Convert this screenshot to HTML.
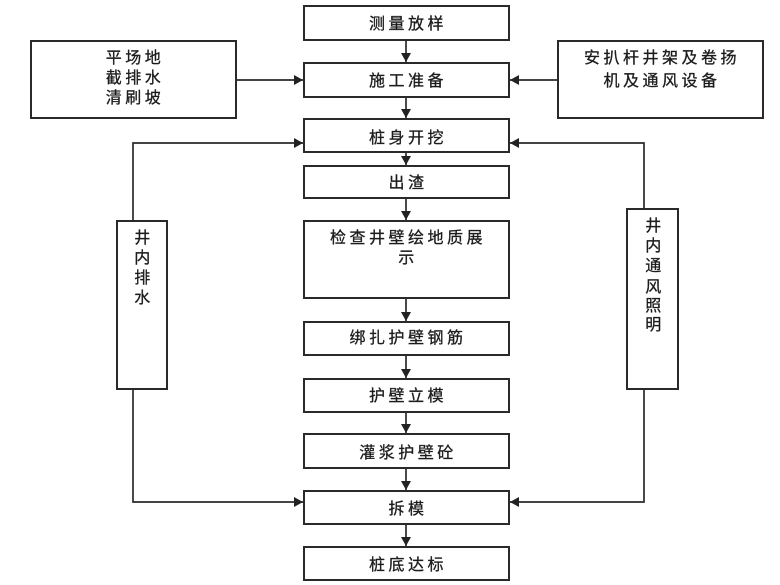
<!DOCTYPE html>
<html>
<head>
<meta charset="utf-8">
<style>
  html,body{margin:0;padding:0;background:#fff;}
  svg{display:block;}
  text{font-family:"Liberation Sans","Noto Sans CJK SC","WenQuanYi Zen Hei",sans-serif;font-size:16px;fill:#1c1c1c;stroke:#1c1c1c;stroke-width:0.3;letter-spacing:3.5px;}
</style>
</head>
<body>
<svg width="780" height="585" viewBox="0 0 780 585" xmlns="http://www.w3.org/2000/svg">
  <defs>
    <marker id="ah" markerWidth="10" markerHeight="10" refX="9" refY="5" orient="auto" markerUnits="userSpaceOnUse">
      <path d="M0,0 L9,5 L0,10 Z" fill="#222"/>
    </marker>
  </defs>

  <!-- boxes -->
  <g fill="#fff" stroke="#2a2a2a" stroke-width="2">
    <rect x="304" y="6" width="205" height="34"/>
    <rect x="304" y="63" width="205" height="34"/>
    <rect x="304" y="119" width="205" height="33"/>
    <rect x="304" y="166" width="205" height="32"/>
    <rect x="304" y="221" width="205" height="77"/>
    <rect x="304" y="322" width="205" height="33"/>
    <rect x="304" y="379" width="205" height="33"/>
    <rect x="304" y="434" width="205" height="34"/>
    <rect x="304" y="491" width="205" height="33"/>
    <rect x="304" y="547" width="205" height="33"/>
    <rect x="31" y="41" width="205" height="77"/>
    <rect x="558" y="41" width="205" height="77"/>
    <rect x="117" y="221" width="50" height="168"/>
    <rect x="627" y="209" width="51" height="180"/>
  </g>

  <!-- connectors -->
  <g stroke="#2a2a2a" stroke-width="1.7" fill="none">
    <line x1="406" y1="40" x2="406" y2="62" marker-end="url(#ah)"/>
    <line x1="406" y1="97" x2="406" y2="118" marker-end="url(#ah)"/>
    <line x1="406" y1="152" x2="406" y2="165" marker-end="url(#ah)"/>
    <line x1="406" y1="198" x2="406" y2="220" marker-end="url(#ah)"/>
    <line x1="406" y1="298" x2="406" y2="321" marker-end="url(#ah)"/>
    <line x1="406" y1="355" x2="406" y2="378" marker-end="url(#ah)"/>
    <line x1="406" y1="412" x2="406" y2="433" marker-end="url(#ah)"/>
    <line x1="406" y1="468" x2="406" y2="490" marker-end="url(#ah)"/>
    <line x1="406" y1="524" x2="406" y2="546" marker-end="url(#ah)"/>

    <line x1="236" y1="80" x2="303" y2="80" marker-end="url(#ah)"/>
    <line x1="558" y1="80" x2="510" y2="80" marker-end="url(#ah)"/>

    <polyline points="133,221 133,143 303,143" marker-end="url(#ah)"/>
    <polyline points="133,389 133,502 303,502" marker-end="url(#ah)"/>
    <polyline points="644,209 644,143 510,143" marker-end="url(#ah)"/>
    <polyline points="644,389 644,502 510,502" marker-end="url(#ah)"/>
  </g>

  <!-- labels -->
  <g text-anchor="middle">
    <text x="408" y="29">测量放样</text>
    <text x="408" y="86">施工准备</text>
    <text x="408" y="143">桩身开挖</text>
    <text x="408" y="188">出渣</text>
    <text x="408" y="243">检查井壁绘地质展</text>
    <text x="408" y="263">示</text>
    <text x="408" y="343">绑扎护壁钢筋</text>
    <text x="408" y="401">护壁立模</text>
    <text x="408" y="458">灌浆护壁砼</text>
    <text x="408" y="514">拆模</text>
    <text x="408" y="570">桩底达标</text>

    <text x="135" y="63">平场地</text>
    <text x="135" y="83">截排水</text>
    <text x="135" y="103">清刷坡</text>

    <text x="662" y="63">安扒杆井架及卷扬</text>
    <text x="662" y="86">机及通风设备</text>

    <text x="144" y="243">井</text>
    <text x="144" y="263">内</text>
    <text x="144" y="283">排</text>
    <text x="144" y="303">水</text>

    <text x="655" y="231">井</text>
    <text x="655" y="251">内</text>
    <text x="655" y="271">通</text>
    <text x="655" y="292">风</text>
    <text x="655" y="311">照</text>
    <text x="655" y="330">明</text>
  </g>
</svg>
</body>
</html>
